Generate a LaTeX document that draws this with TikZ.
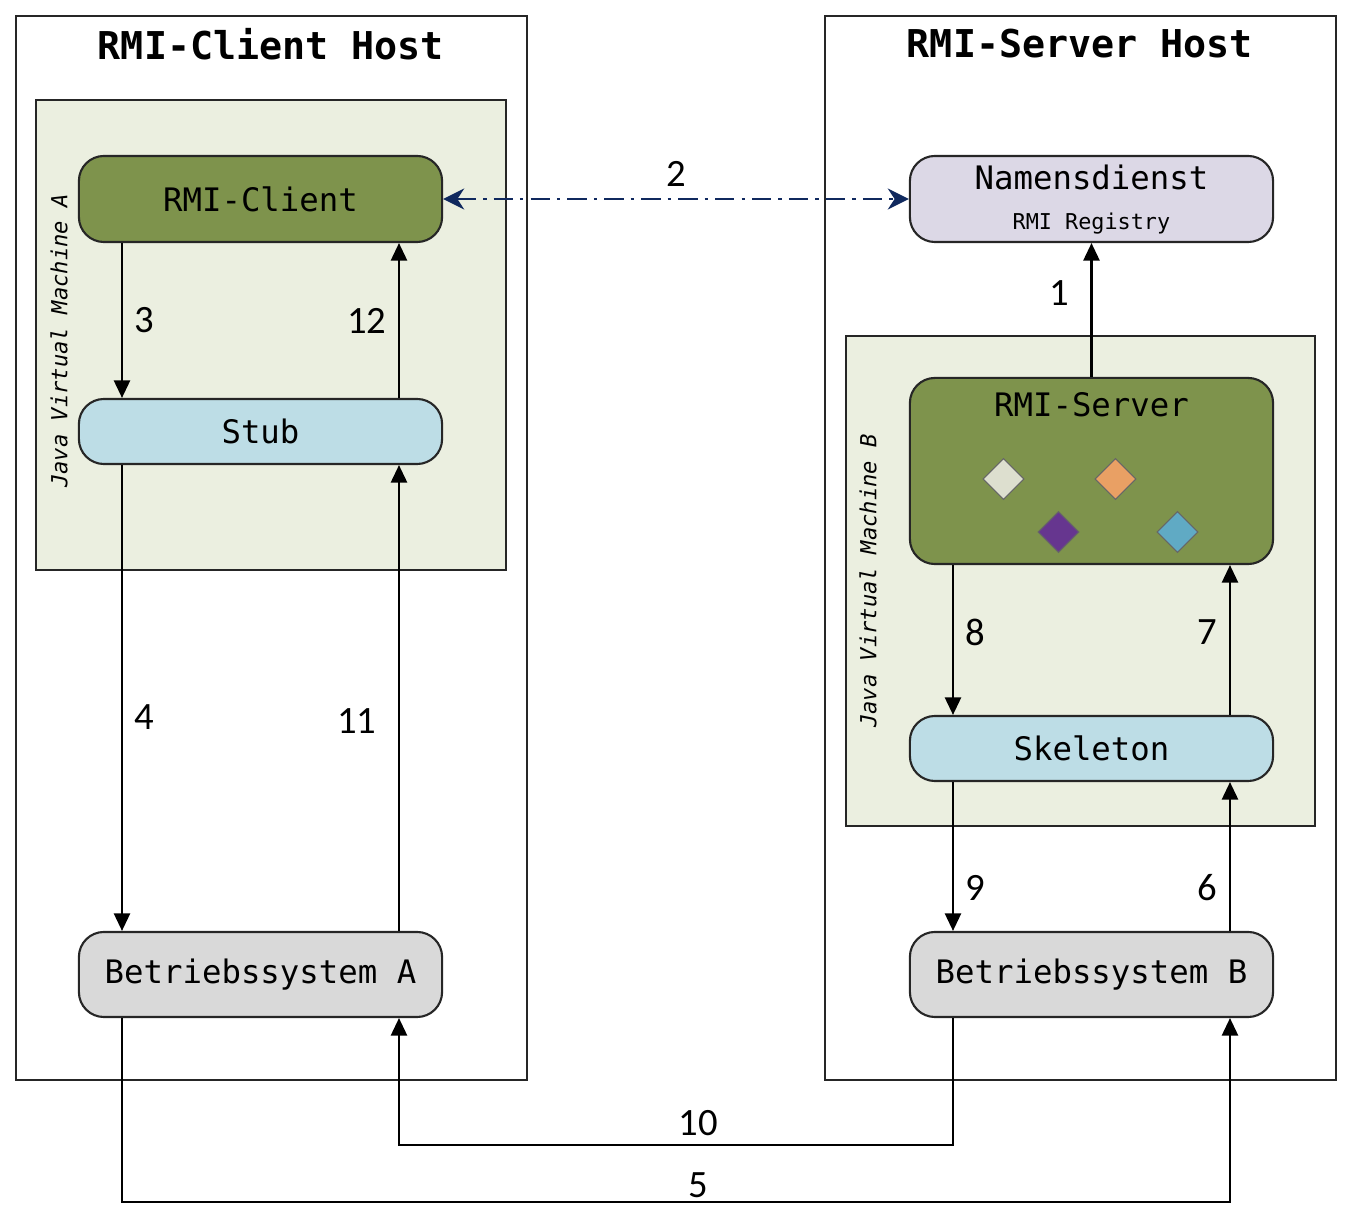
\documentclass[tikz,border=0pt]{standalone}
\usepackage{fontspec}
\usetikzlibrary{arrows.meta,shapes.geometric}
\newfontfamily\monofont{DejaVu Sans Mono}
\newfontfamily\numfont{Carlito}
\definecolor{jvmfill}{HTML}{EBEFE0}
\definecolor{procolive}{HTML}{7E934C}
\definecolor{stubblue}{HTML}{BDDDE6}
\definecolor{osgrey}{HTML}{D9D9D9}
\definecolor{regfill}{HTML}{DCD8E6}
\definecolor{linknavy}{HTML}{10295E}
\definecolor{objwhite}{HTML}{DDDFCF}
\definecolor{objorange}{HTML}{E9A064}
\definecolor{objpurple}{HTML}{66368F}
\definecolor{objblue}{HTML}{60AAC4}
\begin{document}
\begin{tikzpicture}[x=0.01cm,y=-0.01cm,
        host/.style={draw=black!85,line width=0.6pt},
        jvm/.style={draw=black!85,fill=jvmfill,line width=0.5pt},
        proc/.style={draw=black!85,line width=0.6pt,rounded corners=0.25cm,minimum width=3.63cm,inner sep=0pt,font=\monofont\fontsize{9.2}{11}\selectfont},
        title/.style={font=\monofont\bfseries\fontsize{10.9}{13}\selectfont},
        small/.style={font=\monofont\fontsize{6.2}{7.5}\selectfont},
        jvmlabel/.style={font=\monofont\itshape\fontsize{6.3}{7.5}\selectfont,rotate=90},
        arr/.style={-{Triangle[length=5pt,width=4.6pt]},line width=0.6pt},
        link/.style={{Stealth[length=6pt,width=6pt]}-{Stealth[length=6pt,width=6pt]},draw=linknavy,line width=0.6pt,dash pattern=on 5.5pt off 2pt on 1pt off 2pt},
        num/.style={font=\numfont\fontsize{11}{13}\selectfont},
        gem/.style={diamond,draw=black!60,line width=0.3pt,minimum size=0.41cm,inner sep=0pt}]
    \useasboundingbox (0,0) rectangle (1356,1222);

    % hosts
    \draw[host] (16,16) rectangle (527,1080);
    \draw[host] (825,16) rectangle (1336,1080);
    \node[title] (clienthost) at (271,44) {RMI-Client Host};
    \node[title] (serverhost) at (1080,44) {RMI-Server Host};

    % virtual machines
    \draw[jvm] (36,100) rectangle (506,570);
    \draw[jvm] (846,336) rectangle (1315,826);
    \node[jvmlabel] (jvmA) at (59,341) {Java Virtual Machine A};
    \node[jvmlabel] (jvmB) at (868,581) {Java Virtual Machine B};

    % client side
    \node[proc,fill=procolive,minimum height=0.86cm] (client) at (260.5,199) {RMI-Client};
    \node[proc,fill=stubblue,minimum height=0.65cm] (stub) at (260.5,431.5) {Stub};
    \node[proc,fill=osgrey,minimum height=0.85cm] (osA) at (260.5,974.5) {Betriebssystem A};

    % server side
    \node[proc,fill=regfill,minimum height=0.86cm] (registry) at (1091.5,199) {};
    \node[proc,draw=none,fill=none] (regname) at (1091.5,177) {Namensdienst};
    \node[small] (regsub) at (1091.5,224) {RMI Registry};
    \node[proc,fill=procolive,minimum height=1.86cm] (server) at (1091.5,471) {};
    \node[proc,draw=none,fill=none] (srvname) at (1091.5,405) {RMI-Server};
    \node[gem,fill=objwhite] (obj1) at (1003.5,479) {};
    \node[gem,fill=objorange] (obj2) at (1115.5,479) {};
    \node[gem,fill=objpurple] (obj3) at (1058.5,532) {};
    \node[gem,fill=objblue] (obj4) at (1177.5,532) {};
    \node[proc,fill=stubblue,minimum height=0.65cm] (skel) at (1091.5,748.5) {Skeleton};
    \node[proc,fill=osgrey,minimum height=0.85cm] (osB) at (1091.5,974.5) {Betriebssystem B};

    % columns for the calls
    \coordinate (colA1) at (122,0);
    \coordinate (colA2) at (399,0);
    \coordinate (colB1) at (953,0);
    \coordinate (colB2) at (1230,0);
    \coordinate (lowA) at (0,1145);
    \coordinate (lowB) at (0,1202);

    \draw[arr] (server.north) -- node[num,left,pos=0.63,xshift=-1mm] {1} (registry.south);
    \draw[link] (client.east) -- node[num,above,text=black] {2} (registry.west);
    \draw[arr] (client.south -| colA1) -- node[num,right] {3} (stub.north -| colA1);
    \draw[arr] (stub.south -| colA1) -- node[num,right,pos=0.54] {4} (osA.north -| colA1);
    \draw[arr] (osA.south -| colA1) -- (colA1 |- lowB) -- node[num,above,pos=0.52,inner sep=1pt] {5} (colB2 |- lowB) -- (osB.south -| colB2);
    \draw[arr] (osB.north -| colB2) -- node[num,left,pos=0.29] {6} (skel.south -| colB2);
    \draw[arr] (skel.north -| colB2) -- node[num,left,pos=0.55] {7} (server.south -| colB2);
    \draw[arr] (server.south -| colB1) -- node[num,right,pos=0.45] {8} (skel.north -| colB1);
    \draw[arr] (skel.south -| colB1) -- node[num,right,pos=0.71] {9} (osB.north -| colB1);
    \draw[arr] (osB.south -| colB1) -- (colB1 |- lowA) -- node[num,above,pos=0.46,inner sep=2.2pt] {10} (colA2 |- lowA) -- (osA.south -| colA2);
    \draw[arr] (osA.north -| colA2) -- node[num,left,pos=0.45,xshift=-1mm] {11} (stub.south -| colA2);
    \draw[arr] (stub.north -| colA2) -- node[num,left] {12} (client.south -| colA2);
\end{tikzpicture}
\end{document}
